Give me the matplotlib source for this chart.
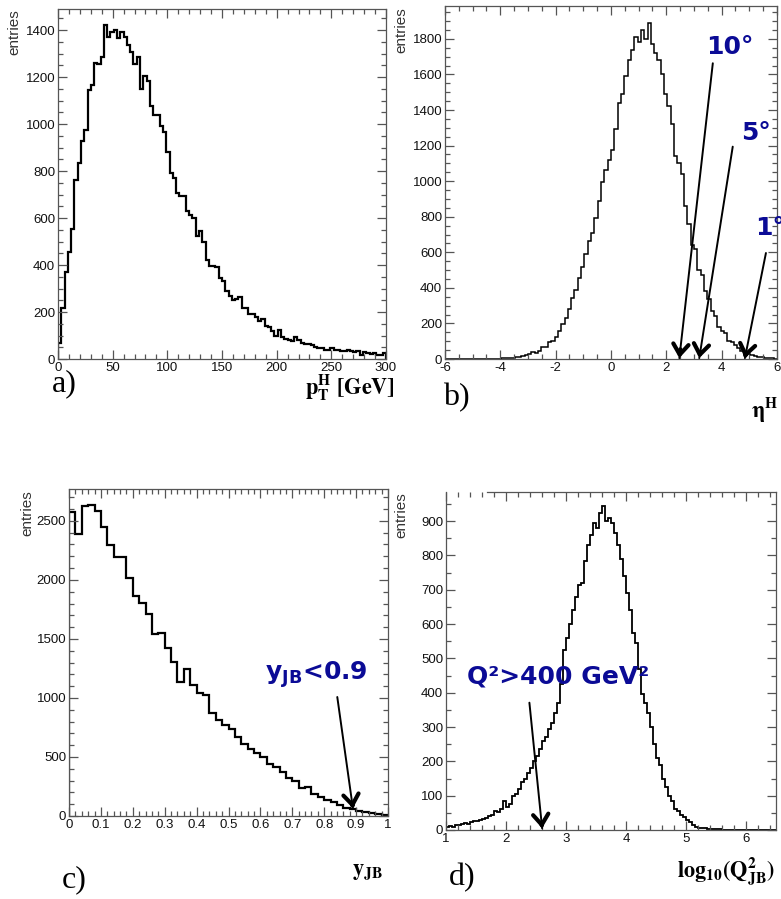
import numpy as np
import matplotlib
matplotlib.use("Agg")
import matplotlib.pyplot as plt
from matplotlib.ticker import MultipleLocator, FuncFormatter

plt.rcParams['axes.unicode_minus'] = False
plt.rcParams['font.family'] = ['Liberation Sans', 'DejaVu Sans']

# ---------------- data ----------------
# a) pT^H, 100 bins 0..300 GeV
pt_range = (0, 300)
pt_counts = [70, 215, 370, 455, 555, 760, 835, 930, 975, 1145,
             1165, 1260, 1255, 1285, 1420, 1370, 1390, 1400, 1365, 1390,
             1370, 1335, 1305, 1255, 1285, 1150, 1205, 1185, 1075, 1040,
             1040, 990, 965, 880, 790, 770, 705, 695, 695, 630,
             615, 600, 525, 545, 500, 420, 395, 395, 390, 345,
             330, 290, 270, 250, 255, 265, 215, 215, 190, 190,
             180, 160, 170, 140, 135, 120, 100, 125, 95, 85,
             80, 78, 95, 80, 70, 65, 62, 60, 50, 48,
             45, 40, 40, 45, 40, 38, 35, 35, 38, 35,
             30, 35, 15, 30, 25, 22, 25, 15, 18, 25]

# b) eta^H, 100 bins -6..6
eta_range = (-6, 6)
eta_counts = [0, 0, 0, 0, 0, 0, 0, 0, 0, 0,
              0, 0, 0, 0, 1, 1, 2, 3, 4, 6,
              8, 10, 14, 18, 22, 28, 42, 35, 45, 68,
              70, 98, 100, 125, 160, 195, 230, 280, 345, 390,
              455, 520, 590, 665, 710, 795, 890, 995, 1065, 1120,
              1175, 1295, 1440, 1490, 1590, 1680, 1740, 1810, 1780, 1850,
              1800, 1890, 1770, 1720, 1680, 1600, 1490, 1420, 1320, 1140,
              1100, 1040, 860, 760, 640, 620, 500, 470, 380, 340,
              270, 240, 180, 160, 145, 100, 95, 80, 60, 45,
              40, 30, 25, 18, 12, 10, 6, 5, 3, 2]
eta_cut_deg = ['10°', '5°', '1°']
eta_cut_pos = [2.47, 3.19, 4.84]

# c) y_JB, 50 bins 0..1
y_range = (0, 1)
y_counts = [2573, 2387, 2627, 2638, 2587, 2446, 2297, 2198, 2198, 2015,
            1865, 1806, 1710, 1538, 1549, 1419, 1306, 1137, 1244, 1109,
            1041, 1021, 869, 813, 770, 739, 672, 607, 570, 536,
            502, 437, 418, 372, 318, 299, 234, 243, 183, 164,
            135, 121, 93, 70, 62, 45, 34, 23, 14, 6]
y_cut = 0.89

# d) log10(Q2_JB), 110 bins 1..6.5
q_range = (1, 6.5)
q_counts = [10, 12, 10, 14, 15, 18, 20, 18, 22, 25,
            27, 30, 32, 35, 42, 45, 55, 52, 62, 85,
            68, 75, 100, 105, 120, 140, 150, 165, 180, 200,
            215, 235, 260, 270, 295, 312, 340, 370, 425, 525,
            560, 600, 640, 680, 715, 720, 785, 830, 860, 895,
            880, 925, 945, 900, 910, 895, 865, 830, 790, 740,
            690, 640, 575, 545, 470, 395, 370, 340, 300, 250,
            210, 190, 150, 125, 100, 85, 62, 55, 45, 38,
            30, 22, 15, 10, 7, 5, 5, 4, 3, 3,
            2, 2, 1, 1, 1, 1, 1, 1, 1, 1,
            1, 1, 0, 0, 0, 0, 0, 0, 0, 0]
q_cut = np.log10(400)

# ---------------- figure ----------------
W, H = 781, 899
fig = plt.figure(figsize=(W / 100, H / 100), dpi=100)


def box(l, r, t, b):
    return [l / W, 1 - b / H, (r - l) / W, (b - t) / H]


def fx(px):
    return px / W


def fy(py):
    return 1 - py / H


FRAME = '#555555'
BLUE = '#0b0b96'
fmt = FuncFormatter(lambda v, p: '%g' % round(v, 6))


def style(ax, xmaj, xmin, ymaj, ymin):
    for s in ax.spines.values():
        s.set_color(FRAME)
        s.set_linewidth(0.9)
    ax.xaxis.set_major_locator(MultipleLocator(xmaj))
    ax.xaxis.set_minor_locator(MultipleLocator(xmin))
    ax.yaxis.set_major_locator(MultipleLocator(ymaj))
    ax.yaxis.set_minor_locator(MultipleLocator(ymin))
    ax.xaxis.set_major_formatter(fmt)
    ax.yaxis.set_major_formatter(fmt)
    ax.tick_params(which='both', direction='in', top=True, right=True,
                   color=FRAME, width=0.9, labelsize=9.5, labelcolor='#111111')
    ax.tick_params(which='major', length=6.5, pad=2)
    ax.tick_params(which='minor', length=3.5)


def hist(ax, counts, rng, lw):
    edges = np.linspace(rng[0], rng[1], len(counts) + 1)
    ax.stairs(counts, edges, color='black', linewidth=lw, baseline=0)


def arrow(ax, tail, tip, lw=1.4):
    ax.annotate('', xy=tip, xytext=tail,
                arrowprops=dict(arrowstyle='-', color='black', lw=lw,
                                shrinkA=0, shrinkB=0))
    # thick open head
    near = (tip[0] + (tail[0] - tip[0]) * 0.03, tip[1] + (tail[1] - tip[1]) * 0.03)
    ax.annotate('', xy=tip, xytext=near,
                arrowprops=dict(arrowstyle='->,head_length=0.75,head_width=0.55',
                                color='black', lw=3.0, mutation_scale=10,
                                shrinkA=0, shrinkB=0))


serif_lbl = dict(fontsize=16, math_fontfamily='stix', color='black')

# ---- a)
ax = fig.add_axes(box(58, 386, 9, 359))
hist(ax, pt_counts, pt_range, 1.6)
ax.set_xlim(*pt_range)
ax.set_ylim(0, 1490)
style(ax, 50, 10, 200, 50)
fig.text(fx(52), fy(384), 'a)', fontsize=23, family='Liberation Serif', ha='left', va='center')
fig.text(fx(395), fy(388), r'$\mathbf{p_{T}^{H}\ [GeV]}$', ha='right', va='center', **serif_lbl)
fig.text(fx(14), fy(9), 'entries', rotation=90, ha='center', va='top', fontsize=11,
         family='Liberation Sans', color='#333333')

# ---- b)
ax = fig.add_axes(box(445, 777, 6, 359))
hist(ax, eta_counts, eta_range, 1.1)
ax.set_xlim(*eta_range)
ax.set_ylim(0, 1985)
style(ax, 2, 0.5, 200, 50)
tails = [(3.68, 1663), (4.40, 1194), (5.60, 596)]
txt_pos = [(3.45, 1754), (4.70, 1271), (5.20, 737)]
for lab, tip_x, tail, tp in zip(eta_cut_deg, eta_cut_pos, tails, txt_pos):
    arrow(ax, tail, (tip_x, 5))
    ax.text(tp[0], tp[1], lab, fontsize=18, fontweight='bold', family='DejaVu Sans',
            color=BLUE, ha='left', va='center', clip_on=False)
fig.text(fx(443), fy(398), 'b)', fontsize=23, family='Liberation Serif', ha='left', va='center')
fig.text(fx(778), fy(409), r'$\mathbf{η^{H}}$', ha='right', va='center', **serif_lbl)
fig.text(fx(401), fy(7), 'entries', rotation=90, ha='center', va='top', fontsize=11,
         family='Liberation Sans', color='#333333')

# ---- c)
ax = fig.add_axes(box(69, 388, 489, 816))
hist(ax, y_counts, y_range, 1.6)
ax.set_xlim(*y_range)
ax.set_ylim(0, 2770)
style(ax, 0.1, 0.02, 500, 100)
arrow(ax, (0.841, 1008), (y_cut, 65))
ax.text(0.614, 1194, r'$\mathbf{y_{JB}}$<0.9', fontsize=18, fontweight='bold',
        family='DejaVu Sans', math_fontfamily='dejavusans', color=BLUE,
        ha='left', va='center')
fig.text(fx(62), fy(880), 'c)', fontsize=23, family='Liberation Serif', ha='left', va='center')
fig.text(fx(383), fy(873), r'$\mathbf{y_{JB}}$', ha='right', va='center', **serif_lbl)
fig.text(fx(27), fy(490), 'entries', rotation=90, ha='center', va='top', fontsize=11,
         family='Liberation Sans', color='#333333')

# ---- d)
ax = fig.add_axes(box(446, 776, 492, 830))
hist(ax, q_counts, q_range, 1.3)
ax.set_xlim(*q_range)
ax.set_ylim(0, 985)
style(ax, 1, 0.2, 100, 50)
ax.spines['top'].set_bounds(1.68, 6.5)
arrow(ax, (2.39, 371), (q_cut, 5))
ax.text(1.35, 446, 'Q²>400 GeV²', fontsize=18, fontweight='bold',
        family='DejaVu Sans', color=BLUE, ha='left', va='center')
fig.text(fx(449), fy(878), 'd)', fontsize=23, family='Liberation Serif', ha='left', va='center')
fig.text(fx(775), fy(872), r'$\mathbf{log_{10}(Q^{2}_{JB})}$', ha='right', va='center', **serif_lbl)
fig.text(fx(401), fy(492), 'entries', rotation=90, ha='center', va='top', fontsize=11,
         family='Liberation Sans', color='#333333')

fig.savefig('out.png', dpi=100)
